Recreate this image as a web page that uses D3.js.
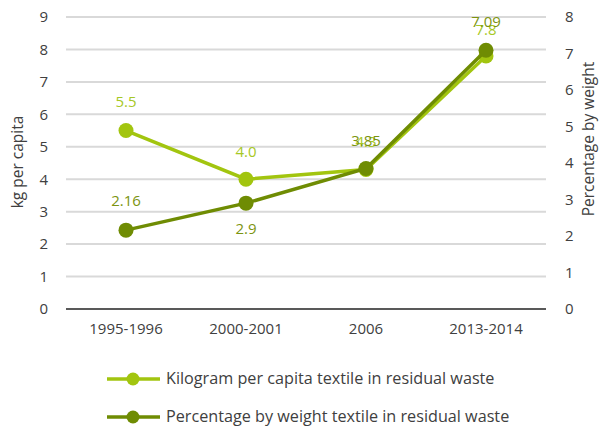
<!DOCTYPE html>
<html><head><meta charset="utf-8">
<script src="https://cdn.jsdelivr.net/npm/d3@7"></script>
<style>body{margin:0;background:#fff;}svg{display:block;font-family:"Open Sans",sans-serif;}</style>
</head><body><svg id="c" width="599" height="427"></svg>
<script>
const categories = ["1995-1996","2000-2001","2006","2013-2014"];
const kgValues = [5.5, 4.0, 4.3, 7.8];
const kgLabels = ["5.5","4.0","4.3","7.8"];
const pctValues = [2.16, 2.9, 3.85, 7.09];
const pctLabels = ["2.16","2.9","3.85","7.09"];
const leftTicks = [0,1,2,3,4,5,6,7,8,9];
const rightTicks = [0,1,2,3,4,5,6,7,8];
const seriesNames = ["Kilogram per capita textile in residual waste","Percentage by weight textile in residual waste"];

const svg = d3.select("#c");
const L = 66, R = 546, T = 17, B = 309;
const lightC = "#a2c50f", darkC = "#6f8c03";
const lightT = "#a6c825", darkT = "#7c9410";

const x = d3.scaleBand().domain(categories).range([L, R]);
const yL = d3.scaleLinear().domain([0, 9]).range([B, T]);
const yR = d3.scaleLinear().domain([0, 8]).range([B, T]);

svg.append("g").selectAll("line").data(leftTicks.filter(d => d > 0)).join("line")
  .attr("x1", L).attr("x2", R).attr("y1", d => yL(d)).attr("y2", d => yL(d))
  .attr("stroke", "#d9d9d9").attr("stroke-width", 2);
svg.append("line").attr("x1", L).attr("x2", R).attr("y1", B).attr("y2", B)
  .attr("stroke", "#595959").attr("stroke-width", 2);

const la = svg.append("g").attr("transform", `translate(${L - 18},0)`)
  .call(d3.axisLeft(yL).tickValues(leftTicks).tickSize(0).tickPadding(0));
la.select(".domain").remove();
la.selectAll("text").attr("font-size", 15).attr("fill", "#404040").attr("font-family", "Open Sans");

const ra = svg.append("g").attr("transform", `translate(${R + 19},0)`)
  .call(d3.axisRight(yR).tickValues(rightTicks).tickSize(0).tickPadding(0));
ra.select(".domain").remove();
ra.selectAll("text").attr("font-size", 15).attr("fill", "#404040").attr("font-family", "Open Sans");

const xa = svg.append("g").attr("transform", `translate(0,${B + 14})`)
  .call(d3.axisBottom(x).tickSize(0).tickPadding(0));
xa.select(".domain").remove();
xa.selectAll("text").attr("font-size", 15).attr("fill", "#404040").attr("font-family", "Open Sans");

svg.append("text").attr("transform", `translate(23,162) rotate(-90)`).attr("text-anchor", "middle")
  .attr("font-size", 15.5).attr("fill", "#404040").text("kg per capita");
svg.append("text").attr("transform", `translate(594,139) rotate(-90)`).attr("text-anchor", "middle")
  .attr("font-size", 15.5).attr("fill", "#404040").text("Percentage by weight");

const cx = d => x(d) + x.bandwidth() / 2;

function series(vals, scale, color) {
  const line = d3.line().x((d, i) => cx(categories[i])).y(d => scale(d));
  svg.append("path").datum(vals).attr("d", line).attr("fill", "none")
    .attr("stroke", color).attr("stroke-width", 3.5);
  svg.append("g").selectAll("circle").data(vals).join("circle")
    .attr("cx", (d, i) => cx(categories[i])).attr("cy", d => scale(d)).attr("r", 7.5).attr("fill", color);
}
series(kgValues, yL, lightC);
series(pctValues, yR, darkC);

const kgOff = [-24, -22, -22, -21];
const pctOff = [-24, 31, -22, -23];
svg.append("g").selectAll("text").data(kgValues).join("text")
  .attr("x", (d, i) => cx(categories[i])).attr("y", (d, i) => yL(d) + kgOff[i])
  .attr("text-anchor", "middle").attr("font-size", 15).attr("fill", lightT)
  .text((d, i) => kgLabels[i]);
svg.append("g").selectAll("text").data(pctValues).join("text")
  .attr("x", (d, i) => cx(categories[i])).attr("y", (d, i) => yR(d) + pctOff[i])
  .attr("text-anchor", "middle").attr("font-size", 15).attr("fill", darkT)
  .text((d, i) => pctLabels[i]);

const lg = svg.append("g");
[lightC, darkC].forEach((c, i) => {
  const y = 379 + i * 38;
  lg.append("line").attr("x1", 107).attr("x2", 160).attr("y1", y).attr("y2", y).attr("stroke", c).attr("stroke-width", 3.5);
  lg.append("circle").attr("cx", 133).attr("cy", y).attr("r", 6.5).attr("fill", c);
  lg.append("text").attr("x", 166).attr("y", y + 5).attr("font-size", 16.2).attr("fill", "#404040").text(seriesNames[i]);
});
</script></body></html>
